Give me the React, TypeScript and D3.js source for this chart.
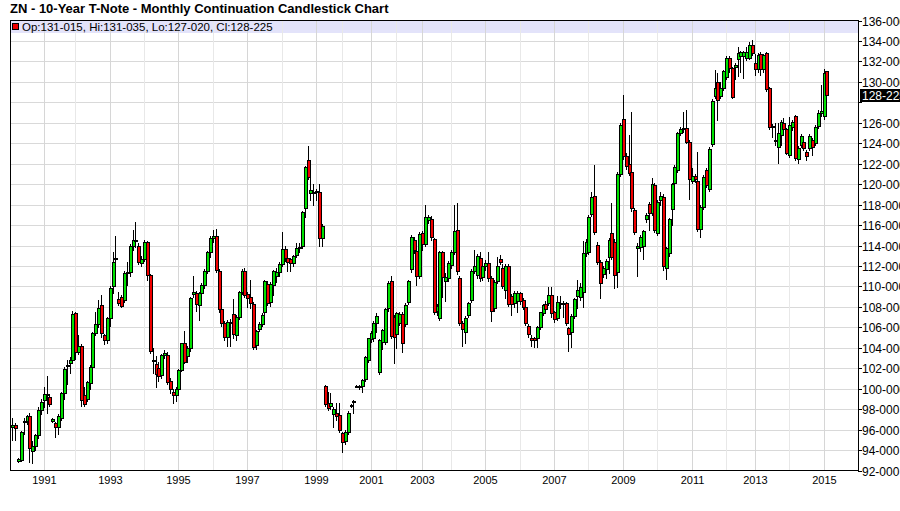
import { useEffect, useRef } from "react";
import * as d3 from "d3";

// monthly continuation bars, Jan 1990 .. Feb 2015 (a few months missing in the feed)
const opens = [
  96.3, 96.4, 92.9, 93.0, 96.7, 96.8, 97.3, 93.9, 94.4, 95.5, 97.9,
  98.9, 99.5, 99.2, 96.8, 96.6, 96.3, 97.1, 99.6, 102.2, 102.5, 102.8,
  107.4, 103.6, 104.2, 99.4, 99.0, 100.6, 102.1, 105.4, 106.3, 108.2, 105.2, 104.8,
  106.9, 110.0, 112.7, 108.8, 109.0, 108.7, 111.3, 111.4, 114.0, 114.5, 114.0, 112.3,
  112.7, 114.3, 111.1, 102.8, 102.4, 102.0, 101.35, 103.3, 103.3, 100.8, 99.65, 99.4,
  99.95, 101.85, 104.45, 103.15, 103.95, 109.25, 109.4, 108.2, 109.35, 110.1, 111.55, 113.4,
  114.7, 114.9, 111.55, 107.8, 106.4, 105.1, 106.4, 107.3, 105.2, 107.0, 109.5, 111.55,
  109.25, 109.0, 108.3, 104.3, 105.8, 106.3, 107.5, 110.25, 108.5, 110.15, 111.0, 111.4,
  112.2, 113.7, 112.75, 112.66, 112.27, 113.09, 113.74, 113.97, 117.65, 122.37, 119.11, 119.21,
  119.3, 119.21, 114.71, 100.28, 98.59, 98.26, 97.54, 97.67, 97.44,
  95.65, 94.84, 95.81, 98.36, 98.75, 100.25, 100.28, 100.28, 100.93, 102.82,
  104.84, 104.94, 106.47, 101.59, 104.61, 104.61, 107.87, 110.48, 107.0,
  105.36, 106.41, 107.32, 106.34, 108.52, 111.68, 114.55, 113.5, 111.03,
  115.21, 114.16, 116.51, 116.57, 114.62, 107.55, 106.9, 113.35, 110.5, 110.81,
  112.11, 113.41, 115.53, 110.81, 106.41, 105.5, 107.22, 108.69, 111.55, 111.13, 112.76, 110.9,
  111.95, 112.27, 110.81, 107.87, 110.48, 112.66, 111.79, 109.67, 112.01, 109.02, 108.36, 108.6,
  109.4, 108.7, 108.0, 106.15, 105.0, 104.95, 104.95, 106.0, 107.4, 108.3, 108.4, 109.2,
  107.45, 106.9, 108.4, 108.4, 108.35, 105.9, 105.5, 107.1, 109.07, 109.0, 109.5, 113.25,
  113.4, 117.09, 118.85, 114.06, 112.43, 111.23, 111.68, 112.92, 115.2, 114.39, 111.45, 120.97,
  126.34, 122.76, 121.98, 121.23, 117.48, 113.73, 113.9, 114.0, 116.57, 118.04, 117.22, 119.93,
  115.2, 118.4, 118.79, 111.78, 113.25, 117.55, 120.09, 121.39, 124.97, 125.37, 125.5, 124.16,
  120.35, 120.81, 120.35, 115.6, 117.81, 121.39, 119.5, 123.93, 128.62, 130.02, 128.62, 129.37,
  130.51, 132.31, 131.33, 131.49, 132.21, 132.53, 132.53, 132.31, 132.31, 133.61,
  131.88, 131.23, 132.73, 131.23, 132.86, 129.37, 125.7, 124.35, 123.61, 124.81, 125.95, 125.37,
  122.86, 125.6, 126.67, 122.43, 123.83, 124.16, 123.18, 123.51, 124.32, 124.0, 125.69, 126.93,
  126.67, 131.047,
];

const highs = [
  97.1, 96.6, 93.2, 95.9, 97.1, 97.4, 97.6, 94.9, 95.6, 98.2, 99.0,
  100.2, 101.2, 99.3, 97.1, 96.7, 97.5, 99.7, 102.1, 102.8, 103.1, 107.6,
  107.5, 105.2, 104.4, 100.2, 100.8, 102.3, 105.5, 107.5, 108.7, 109.2, 105.3, 107.0,
  110.0, 113.4, 114.9, 109.5, 109.2, 111.5, 112.4, 114.1, 115.5, 116.3, 114.2, 113.0,
  114.5, 114.4, 111.2, 104.0, 103.2, 102.6, 103.4, 103.8, 103.6, 101.0, 100.0, 100.2,
  101.9, 104.5, 105.6, 104.2, 109.0, 111.0, 109.6, 109.5, 110.3, 111.7, 113.5, 114.9,
  115.5, 115.6, 111.7, 108.0, 106.6, 106.7, 106.8, 108.75, 107.2, 109.6, 111.7, 111.8,
  109.5, 110.6, 108.5, 105.7, 106.5, 107.4, 110.6, 110.5, 110.4, 111.6, 111.8, 112.4,
  115.3, 114.0, 113.0, 112.8, 113.1, 114.23, 114.23, 117.4, 121.8, 123.74, 121.07, 120.03,
  119.5, 120.03, 116.1, 100.4, 99.7, 99.53, 98.2, 98.59, 98.59,
  95.8, 96.0, 97.8, 98.5, 98.9, 100.35, 100.4, 100.95, 103.2, 105.0,
  105.6, 106.6, 107.38, 104.9, 105.8, 107.9, 110.5, 111.03, 107.2,
  107.5, 107.5, 107.5, 108.4, 110.6, 115.0, 114.8, 113.7, 115.3,
  115.4, 117.97, 117.0, 116.9, 114.7, 108.3, 113.5, 113.5, 111.3, 112.5,
  113.6, 118.0, 118.14, 111.0, 106.6, 107.1, 108.5, 111.7, 113.57, 113.2, 113.41, 112.3,
  112.6, 113.41, 111.0, 110.6, 112.92, 113.08, 112.2, 112.2, 112.2, 109.3, 109.6, 109.6,
  109.5, 108.9, 108.1, 106.3, 105.2, 105.1, 106.1, 107.5, 108.3, 108.6, 109.9, 109.9,
  107.6, 109.1, 109.1, 108.6, 108.5, 106.0, 107.3, 108.9, 110.64, 110.3, 114.4, 114.6,
  117.0, 119.28, 121.88, 114.3, 112.6, 112.0, 112.7, 114.7, 118.13, 114.6, 121.2, 126.0,
  128.72, 123.0, 124.81, 127.09, 117.7, 114.2, 115.0, 115.5, 117.2, 118.3, 120.58, 120.1,
  118.4, 119.2, 119.0, 113.9, 116.7, 120.1, 121.9, 125.1, 125.6, 127.09, 127.26, 124.3,
  121.56, 121.0, 123.19, 118.0, 120.9, 121.6, 123.6, 128.3, 131.17, 130.84, 130.0, 131.2,
  132.5, 132.5, 131.5, 131.8, 133.45, 133.0, 133.0, 133.45, 133.93, 134.1,
  132.73, 132.8, 132.9, 132.7, 132.96, 129.5, 125.9, 125.95, 125.95, 126.3, 126.5, 125.5,
  126.6, 126.3, 126.8, 123.7, 124.9, 124.3, 123.3, 124.9, 124.5, 125.8, 127.2, 129.7,
  131.3, 131.109,
];

const lows = [
  95.0, 95.0, 92.8, 92.9, 95.6, 96.5, 92.8, 92.7, 94.0, 95.2, 97.5,
  98.2, 97.6, 98.3, 96.7, 95.3, 95.6, 96.9, 99.0, 100.5, 101.5, 102.6,
  102.9, 103.4, 98.3, 98.3, 98.8, 100.0, 101.9, 105.2, 106.0, 105.1, 104.4, 104.5,
  106.1, 109.4, 112.3, 108.2, 108.0, 108.5, 110.1, 111.0, 113.6, 113.9, 112.2, 112.0,
  112.5, 110.6, 103.5, 101.5, 100.2, 100.8, 101.0, 103.0, 100.5, 99.6, 98.6, 98.8,
  99.7, 101.7, 102.5, 102.6, 103.7, 109.0, 107.6, 106.7, 109.0, 109.8, 111.3, 112.9,
  114.3, 111.4, 107.5, 106.1, 104.8, 104.2, 104.2, 105.0, 104.8, 106.8, 109.3, 109.0,
  108.0, 107.9, 103.9, 103.9, 105.6, 106.1, 107.3, 108.2, 108.1, 109.2, 110.4, 111.0,
  112.0, 112.5, 111.55, 111.46, 112.0, 112.9, 113.41, 113.8, 116.77, 120.5, 118.46, 117.97,
  118.46, 113.92, 113.92, 98.3, 97.9, 98.0, 96.24, 96.96, 95.8,
  93.83, 94.6, 95.6, 98.2, 97.67, 100.2, 100.0, 99.7, 100.8, 102.6,
  104.6, 104.7, 105.59, 101.4, 103.86, 104.4, 107.6, 105.0, 102.5,
  103.96, 106.2, 103.54, 106.1, 108.3, 111.4, 113.3, 110.15, 110.8,
  113.6, 114.0, 116.2, 114.5, 107.3, 107.2, 106.7, 109.0, 108.6, 110.5,
  111.8, 113.2, 111.2, 106.2, 104.13, 104.5, 107.0, 108.5, 111.3, 110.8, 110.5, 110.6,
  111.6, 110.5, 106.57, 107.6, 110.3, 112.2, 109.8, 108.85, 108.1, 107.22, 108.0, 107.5,
  108.3, 107.8, 106.2, 105.1, 104.2, 104.1, 104.1, 105.8, 107.2, 107.5, 108.2, 107.0,
  106.5, 106.7, 107.9, 107.0, 106.2, 103.65, 104.06, 106.9, 107.87, 108.7, 108.0, 113.0,
  113.2, 116.9, 115.1, 112.2, 108.85, 110.9, 110.8, 111.29, 112.7, 109.83, 109.9, 120.8,
  122.5, 121.5, 120.9, 117.4, 115.1, 110.97, 113.5, 112.7, 116.3, 115.53, 117.0, 115.3,
  115.0, 118.0, 111.62, 110.71, 113.0, 116.0, 119.9, 121.2, 124.8, 125.1, 124.0, 118.53,
  120.1, 120.2, 115.4, 114.88, 117.6, 119.7, 119.3, 123.7, 128.4, 126.28, 128.4, 129.2,
  130.3, 131.0, 128.4, 130.25, 130.6, 131.0, 130.35, 132.1, 132.2, 132.6,
  130.7, 131.0, 130.68, 131.0, 129.1, 125.4, 124.6, 123.83, 122.11, 123.83, 125.1, 122.9,
  122.7, 125.3, 122.4, 122.04, 123.6, 123.3, 122.37, 123.3, 122.86, 123.8, 125.5, 126.7,
  126.4, 127.0625,
];

const closes = [
  96.4, 96.2, 93.1, 95.75, 96.8, 97.3, 94.2, 94.4, 95.5, 97.9, 98.7,
  99.5, 99.4, 98.5, 97.0, 96.3, 97.3, 99.6, 101.9, 102.3, 102.8, 107.3,
  103.6, 104.2, 98.9, 98.5, 100.65, 102.1, 105.4, 106.3, 107.9, 105.4, 104.8, 106.9,
  109.8, 112.4, 112.8, 108.4, 108.1, 111.3, 111.4, 114.0, 114.5, 114.4, 112.4, 112.7,
  114.3, 111.1, 103.7, 102.7, 101.4, 101.2, 103.3, 103.5, 100.7, 100.0, 99.4, 99.95,
  101.8, 104.45, 102.65, 103.95, 108.85, 109.45, 108.3, 109.35, 110.1, 111.55, 113.4, 114.7,
  114.9, 111.6, 107.8, 106.4, 105.1, 106.55, 106.55, 105.3, 107.0, 109.5, 111.55, 109.2,
  108.85, 108.35, 104.1, 105.6, 106.3, 107.2, 110.5, 108.4, 110.25, 111.5, 111.4, 112.2,
  113.7, 112.75, 112.35, 112.27, 112.99, 113.74, 113.9, 117.25, 121.66, 120.68, 119.44, 119.11,
  119.2, 114.71, 115.91, 98.49, 98.16, 98.59, 98.0, 97.35, 95.98,
  94.74, 95.81, 97.61, 98.3, 98.78, 100.28, 100.3, 100.87, 103.08, 104.94,
  105.49, 106.47, 107.12, 104.78, 105.69, 107.77, 110.38, 105.17, 105.1,
  107.38, 107.32, 104.45, 108.2, 110.48, 114.88, 113.57, 111.03, 115.11,
  114.16, 116.77, 116.83, 114.88, 107.45, 108.1, 113.35, 110.9, 110.9, 112.27,
  113.41, 115.43, 111.46, 106.41, 105.83, 106.9, 108.36, 111.55, 111.95, 112.99, 110.81, 111.95,
  112.27, 110.81, 107.55, 110.39, 111.95, 112.37, 110.06, 112.01, 108.3, 108.3, 109.4, 109.4,
  108.6, 108.0, 106.4, 105.35, 104.8, 104.8, 106.0, 107.45, 108.2, 107.8, 109.2, 107.4,
  106.8, 108.5, 108.3, 108.3, 106.4, 105.35, 107.1, 108.75, 109.66, 109.99, 113.25, 114.39,
  116.83, 118.79, 115.3, 112.43, 110.31, 111.78, 112.53, 114.49, 112.92, 111.13, 121.0, 125.79,
  122.76, 121.78, 121.13, 117.65, 115.3, 113.96, 114.81, 115.4, 117.0, 117.22, 119.99, 115.53,
  118.23, 118.85, 112.01, 113.73, 116.57, 119.99, 121.72, 124.97, 125.4, 125.53, 124.16, 120.48,
  120.81, 120.48, 115.6, 117.81, 120.68, 119.93, 123.41, 128.13, 129.37, 128.23, 129.37, 131.1,
  132.31, 131.33, 128.56, 131.65, 132.79, 132.89, 132.89, 132.96, 133.61, 132.79,
  131.23, 132.6, 131.23, 132.6, 129.28, 125.63, 125.63, 124.32, 125.04, 126.11, 125.37, 123.08,
  125.79, 126.11, 122.53, 123.51, 124.71, 123.51, 122.76, 124.71, 123.61, 125.63, 127.0, 127.19,
  130.9, 128.703,
];

// year gridlines: first bar of each year
const gridYears = [
  1991, 1992, 1993, 1994, 1995, 1996, 1997, 1998, 1999, 2000, 2001, 2002, 2003,
  2004, 2005, 2006, 2007, 2008, 2009, 2010, 2011, 2012, 2013, 2014, 2015,
];
const gridYearBar = [
  11, 22, 34, 46, 58, 70, 82, 94, 106, 115, 125, 134, 143,
  153, 165, 177, 189, 201, 213, 225, 237, 249, 259, 271, 283,
];

const priceTicks = d3.range(92, 137, 2);
const lastBar = { op: "131-015", hi: "131-035", lo: "127-020", cl: "128-225" };

const FONT = "'Liberation Sans', Arial, sans-serif";
const UP = "#00e000";
const DOWN = "#f00000";

export default function App() {
  const ref = useRef<SVGSVGElement>(null);

  useEffect(() => {
    drawChart();
  }, []);

  const drawChart = () => {
    const width = 900;
    const height = 511;
    const left = 10;
    const right = 858;
    const top = 20;
    const bottom = 470;

    const svg = d3.select(ref.current);
    svg.selectAll("*").remove();
    svg.attr("width", width).attr("height", height);

    const xScale = d3.scaleLinear().domain([-0.6, 295.2]).range([left + 0.5, right + 0.5]);
    const yScale = d3.scaleLinear().domain([92, 136]).range([bottom + 0.5, top + 0.5]);
    const px = (i: number) => Math.round(xScale(i));
    const py = (v: number) => Math.round(yScale(v));

    // title
    svg
      .append("text")
      .attr("x", 10)
      .attr("y", 13)
      .attr("font-family", FONT)
      .attr("font-size", "13px")
      .attr("font-weight", "bold")
      .attr("fill", "#000")
      .text("ZN - 10-Year T-Note - Monthly Continuation Candlestick Chart");

    const g = svg.append("g").attr("shape-rendering", "crispEdges");

    // legend band along the top of the plot
    g.append("rect")
      .attr("x", left + 1)
      .attr("y", top + 1)
      .attr("width", right - left - 1)
      .attr("height", 12)
      .attr("fill", "#e3e3fa");

    // horizontal grid
    g.selectAll(".hgrid")
      .data(priceTicks.filter((v) => v > 92 && v < 136))
      .enter()
      .append("line")
      .attr("x1", left)
      .attr("x2", right)
      .attr("y1", (d) => py(d) + 0.5)
      .attr("y2", (d) => py(d) + 0.5)
      .attr("stroke", "#d9d9d9");

    // vertical grid (one per year, labelled years a bit darker)
    g.selectAll(".vgrid")
      .data(gridYears)
      .enter()
      .append("line")
      .attr("x1", (d, k) => px(gridYearBar[k]) + 0.5)
      .attr("x2", (d, k) => px(gridYearBar[k]) + 0.5)
      .attr("y1", top)
      .attr("y2", bottom)
      .attr("stroke", (d) => (d % 2 === 1 ? "#d6d6d6" : "#e8e8e8"));

    // candles
    const bars = d3.range(opens.length);
    const candle = g.selectAll(".candle").data(bars).enter().append("g");

    candle
      .append("line")
      .attr("x1", (i) => px(i) + 0.5)
      .attr("x2", (i) => px(i) + 0.5)
      .attr("y1", (i) => py(highs[i]))
      .attr("y2", (i) => py(lows[i]) + 1)
      .attr("stroke", "#000");

    candle
      .append("rect")
      .attr("x", (i) => px(i) - 0.5)
      .attr("y", (i) => py(Math.max(opens[i], closes[i])) + 0.5)
      .attr("width", 3)
      .attr("height", (i) =>
        Math.max(1, py(Math.min(opens[i], closes[i])) - py(Math.max(opens[i], closes[i])))
      )
      .attr("fill", (i) => (closes[i] >= opens[i] ? UP : DOWN))
      .attr("stroke", "#000");

    // frame
    g.append("rect")
      .attr("x", left + 0.5)
      .attr("y", top + 0.5)
      .attr("width", right - left)
      .attr("height", bottom - top)
      .attr("fill", "none")
      .attr("stroke", "#000");

    // legend text
    g.append("rect")
      .attr("x", 12.5)
      .attr("y", 23.5)
      .attr("width", 6)
      .attr("height", 6)
      .attr("fill", DOWN)
      .attr("stroke", "#000");
    svg
      .append("text")
      .attr("x", 22)
      .attr("y", 30.5)
      .attr("font-family", FONT)
      .attr("font-size", "11.5px")
      .attr("fill", "#000")
      .text(`Op:${lastBar.op}, Hi:${lastBar.hi}, Lo:${lastBar.lo}, Cl:${lastBar.cl}`);

    // right price axis
    const lastY = py(closes[closes.length - 1]);

    g.selectAll(".ytick")
      .data(priceTicks)
      .enter()
      .append("line")
      .attr("x1", right)
      .attr("x2", right + 4)
      .attr("y1", (d) => py(d) + 0.5)
      .attr("y2", (d) => py(d) + 0.5)
      .attr("stroke", "#000");

    // the tick label hidden behind the last-price marker is left out
    svg
      .selectAll(".ylabel")
      .data(priceTicks.filter((d) => Math.abs(py(d) - lastY) > 10))
      .enter()
      .append("text")
      .attr("x", right + 4)
      .attr("y", (d) => py(d) + 4.5)
      .attr("font-family", FONT)
      .attr("font-size", "12px")
      .attr("fill", "#000")
      .text((d) => `${d}-000`);

    // last price marker
    g.append("rect")
      .attr("x", right + 2)
      .attr("y", lastY - 6)
      .attr("width", 42)
      .attr("height", 13)
      .attr("fill", "#000");
    svg
      .append("text")
      .attr("x", right + 4)
      .attr("y", lastY + 5)
      .attr("font-family", FONT)
      .attr("font-size", "12px")
      .attr("fill", "#fff")
      .text(lastBar.cl);

    // year labels
    svg
      .selectAll(".xlabel")
      .data(gridYears.filter((d) => d % 2 === 1))
      .enter()
      .append("text")
      .attr("x", (d) => px(gridYearBar[gridYears.indexOf(d)]) + 0.5)
      .attr("y", 484)
      .attr("text-anchor", "middle")
      .attr("font-family", FONT)
      .attr("font-size", "11px")
      .attr("fill", "#000")
      .text((d) => String(d));
  };

  return (
    <div style={{ position: "absolute", left: 0, top: 0, width: 900, height: 511, background: "#fff" }}>
      <svg ref={ref} style={{ display: "block" }}></svg>
    </div>
  );
}
